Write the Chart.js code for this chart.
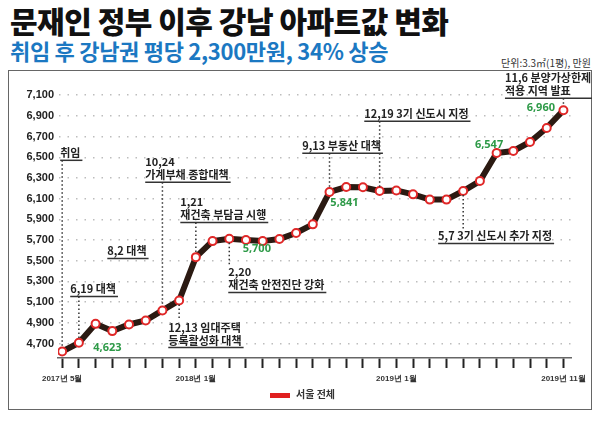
<!DOCTYPE html>
<html>
<head>
<meta charset="utf-8">
<script src="https://cdn.jsdelivr.net/npm/chart.js@4"></script>
<style>
  body { margin: 0; background: #fff; font-family: "Noto Sans CJK KR", sans-serif; }
  #wrap { position: relative; width: 601px; height: 425px; overflow: hidden; }
  #title { position: absolute; left: 10px; top: -2px; font-size: 30px; font-weight: 900; color: #111; letter-spacing: -0.5px; }
  #sub { position: absolute; left: 10px; top: 34px; font-size: 22px; font-weight: 700; color: #1b78c2; letter-spacing: -0.3px; }
  #unit { position: absolute; right: 10px; top: 55px; font-size: 10px; color: #333; }
  #frame { position: absolute; left: 8px; top: 70px; width: 582px; height: 338px; border: 1.5px solid #666; }
  #box { position: absolute; left: 8px; top: 70px; width: 584px; height: 340px; }
  #legend { position: absolute; left: 270px; top: 386px; font-size: 10px; font-weight: 700; color: #333; }
  #legend span { display: inline-block; width: 20px; height: 5px; background: #e02020; vertical-align: middle; margin-right: 6px; }
</style>
</head>
<body>
<div id="wrap">
  <div id="title">문재인 정부 이후 강남 아파트값 변화</div>
  <div id="sub">취임 후 강남권 평당 2,300만원, 34% 상승</div>
  <div id="unit">단위:3.3㎡(1평), 만원</div>
  <div id="frame"></div>
  <div id="box"><canvas id="priceChart" width="584" height="340"></canvas></div>
  <div id="legend"><span></span>서울 전체</div>
</div>
<script>
// monthly, 2017.5 ~ 2019.11
const months = ['2017년 5월','6월','7월','8월','9월','10월','11월','12월','2018년 1월','2월','3월','4월','5월','6월','7월','8월','9월','10월','11월','12월',
  '2019년 1월','2월','3월','4월','5월','6월','7월','8월','9월','10월','2019년 11월'];
const shownLabels = [0, 8, 20, 30];
const prices = [4623, 4707, 4890, 4820, 4884, 4923, 5020, 5116, 5535, 5690, 5713, 5700, 5690, 5710, 5768,
  5852, 6165, 6213, 6210, 6174, 6180, 6142, 6091, 6091, 6174, 6271, 6542, 6561, 6648, 6784, 6955];
const yTicks = [4700, 4900, 5100, 5300, 5500, 5700, 5900, 6100, 6300, 6500, 6700, 6900, 7100];

// policy notes: point index, text left (index units), underline value, lines
const notes = [
  { idx: 0, tx: -0.12, uv: 6471, lines: ['취임'] },
  { idx: 1, tx: 0.48, uv: 5155, lines: ['6,19 대책'] },
  { idx: null, tx: 2.7, uv: 5523, lines: ['8,2 대책'] },
  { idx: 6, tx: 4.97, uv: 6259, lines: ['10,24', '가계부채 종합대책'] },
  { idx: 8, tx: 7.07, uv: 5871, lines: ['1,21', '재건축 부담금 시행'] },
  { idx: 10, tx: 9.94, uv: 5194, lines: ['2,20', '재건축 안전진단 강화'] },
  { idx: 7, tx: 6.35, uv: 4661, lines: ['12,13 임대주택', '등록활성화 대책'] },
  { idx: 16, tx: 14.37, uv: 6539, lines: ['9,13 부동산 대책'] },
  { idx: 19, tx: 18.08, uv: 6849, lines: ['12,19 3기 신도시 지정'] },
  { idx: 24, tx: 22.5, uv: 5668, lines: ['5,7 3기 신도시 추가 지정'] },
  { idx: 30, tx: 26.5, uv: 7072, lines: ['11,6 분양가상한제', '적용 지역 발표'] }
];
const valueLabels = [
  { tx: 1.86, v: 4632, text: '4,623' },
  { tx: 10.8, v: 5581, text: '5,700' },
  { tx: 16.05, v: 6026, text: '5,841' },
  { tx: 24.7, v: 6588, text: '6,547' },
  { tx: 27.8, v: 6946, text: '6,960' }
];

const notePlugin = {
  id: 'notes',
  afterDatasetsDraw: (chart) => {
    const { ctx, scales: { x, y } } = chart;
    ctx.save();
    ctx.font = 'bold 11px "Noto Sans CJK KR"';
    ctx.textBaseline = 'alphabetic';
    notes.forEach(n => {
      const left = x.getPixelForValue(n.tx);
      const ul = y.getPixelForValue(n.uv);
      const lh = 13;
      const w = Math.max(...n.lines.map(t => ctx.measureText(t).width));
      ctx.fillStyle = '#222';
      n.lines.forEach((t, k) => {
        ctx.fillText(t, left, ul - 3 - (n.lines.length - 1 - k) * lh);
      });
      ctx.strokeStyle = '#333';
      ctx.lineWidth = 1.5;
      ctx.beginPath();
      ctx.moveTo(left, ul);
      ctx.lineTo(left + w + 2, ul);
      ctx.stroke();
      if (n.idx !== null) {
        const px = x.getPixelForValue(n.idx);
        const py = y.getPixelForValue(prices[n.idx]);
        const top = ul - 3 - n.lines.length * lh;
        ctx.setLineDash([1.5, 2.5]);
        ctx.lineWidth = 1.5;
        ctx.beginPath();
        if (py > ul) { ctx.moveTo(px, ul); ctx.lineTo(px, py - 4); }
        else { ctx.moveTo(px, py + 4); ctx.lineTo(px, top + 2); }
        ctx.stroke();
        ctx.setLineDash([]);
      }
    });
    ctx.font = 'bold 11px "Noto Sans"';
    ctx.fillStyle = '#2e9a48';
    valueLabels.forEach(l => {
      ctx.fillText(l.text, x.getPixelForValue(l.tx), y.getPixelForValue(l.v));
    });
    ctx.restore();
  }
};

new Chart(document.getElementById('priceChart'), {
  type: 'line',
  data: {
    datasets: [{
      label: '서울 전체',
      data: prices.map((v, i) => ({ x: i, y: v })),
      borderColor: '#2b1a12',
      borderWidth: 6,
      pointRadius: 4,
      pointBorderWidth: 2,
      pointBackgroundColor: '#fff',
      pointBorderColor: '#e02828',
      tension: 0
    }]
  },
  plugins: [notePlugin],
  options: {
    responsive: false,
    animation: false,
    layout: { padding: { top: 18, right: 20, left: 0, bottom: 0 } },
    plugins: { legend: { display: false }, tooltip: { enabled: false } },
    scales: {
      x: {
        type: 'linear',
        min: -0.25,
        max: 30.5,
        afterBuildTicks: (s) => { s.ticks = months.map((m, i) => ({ value: i })); },
        afterFit: (s) => { s.height = 52; },
        ticks: {
          autoSkip: false,
          maxRotation: 0,
          padding: 6,
          color: '#333',
          font: { size: 8, weight: 'bold' },
          callback: (v) => shownLabels.includes(v) ? months[v] : ''
        },
        grid: { drawOnChartArea: false, drawTicks: true, tickLength: 10, tickColor: '#222', tickWidth: 2 },
        border: { display: true, color: '#666', width: 1.5 }
      },
      y: {
        min: 4560,
        max: 7170,
        afterBuildTicks: (s) => { s.ticks = yTicks.map(v => ({ value: v })); },
        afterFit: (s) => { s.width = 50; },
        ticks: {
          color: '#222',
          padding: 4,
          font: { size: 11, weight: 'bold' },
          callback: (v) => v.toLocaleString('en-US')
        },
        grid: { color: '#bdbdbd', lineWidth: 1.5, drawTicks: false },
        border: { display: true, color: 'rgba(0,0,0,0)', dash: [1.5, 7] }
      }
    }
  }
});
</script>
</body>
</html>
